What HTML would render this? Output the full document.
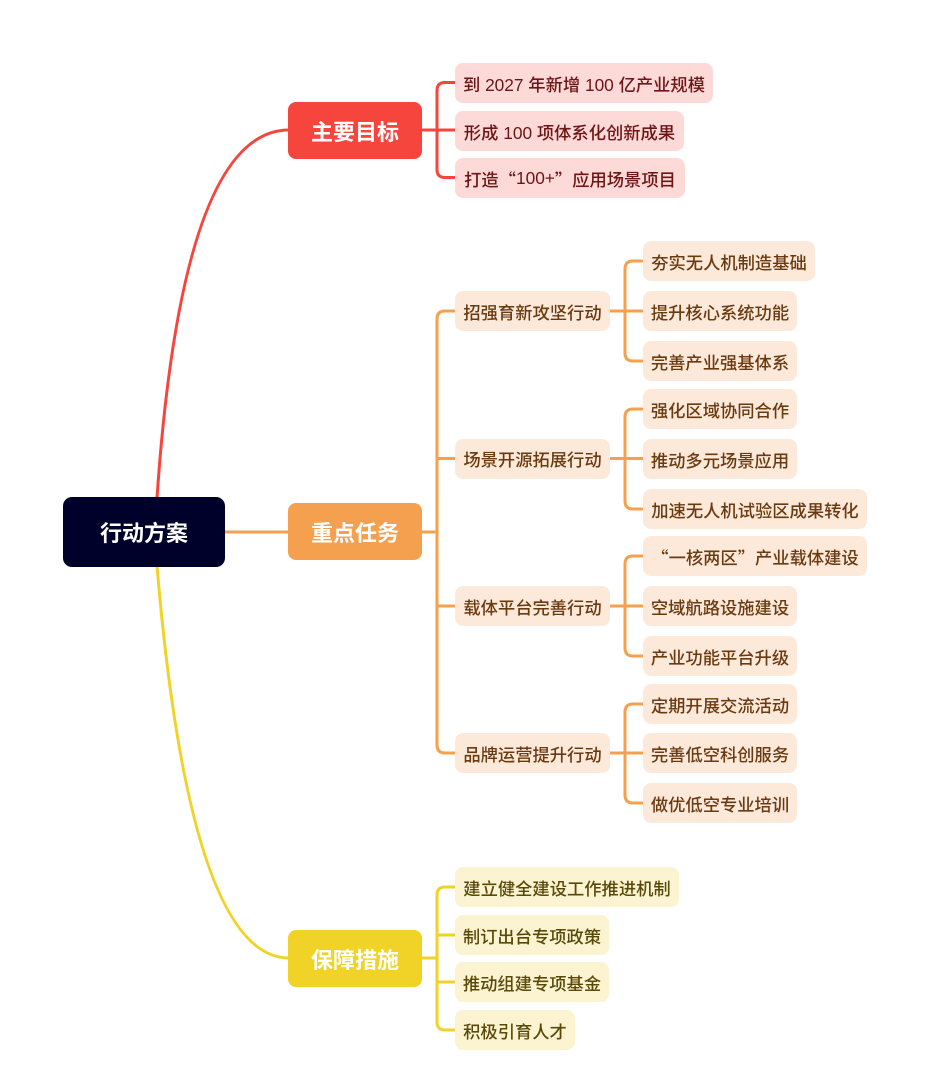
<!DOCTYPE html>
<html>
<head>
<meta charset="utf-8">
<style>
  html, body { margin:0; padding:0; background:#ffffff; }
  body { width:930px; height:1072px; position:relative; overflow:hidden;
         font-family:"Liberation Sans","Noto Sans CJK SC",sans-serif; }
  svg { position:absolute; left:0; top:0; }
  .n { position:absolute; display:flex; align-items:center; justify-content:center;
       white-space:nowrap; box-sizing:border-box; }
  .root { left:63px; top:497px; width:162px; height:70px; border-radius:9px;
          background:#00012a; color:#fff; font-size:22px; font-weight:bold; }
  .l1 { left:288px; width:134px; height:57px; border-radius:8px; color:#fff;
        font-size:22px; font-weight:bold; }
  .leaf { height:40px; border-radius:8px; font-size:17.3px; font-weight:500; }
  .r { background:#fdd9d7; color:#6e1515; }
  .o { background:#fde9da; color:#6a3a10; }
  .y { background:#fcf4d1; color:#5a4a0a; }
  .q { font-family:"Noto Sans CJK SC",sans-serif; }
</style>
</head>
<body>
<svg width="930" height="1072" viewBox="0 0 930 1072" fill="none" stroke-width="3" stroke-linecap="round">
  <!-- root to level1 -->
  <path d="M157,498 Q182,130 289,130" stroke="#f6453d"/>
  <path d="M225,532 H289" stroke="#f5a04e"/>
  <path d="M157,566 Q190,958 289,958" stroke="#f1d226"/>

  <!-- red branch -->
  <g stroke="#f6453d">
    <path d="M422,130 H455"/>
    <path d="M455,82.5 H445 Q437,82.5 437,90.5 V169.5 Q437,177.5 445,177.5 H455"/>
  </g>

  <!-- orange branch -->
  <g stroke="#f5a04e">
    <path d="M422,532 H437"/>
    <path d="M455,311 H445 Q437,311 437,319 V745 Q437,753 445,753 H455"/>
    <path d="M437,458.5 H455"/>
    <path d="M437,606 H455"/>

    <path d="M610,311 H643"/>
    <path d="M643,261 H633 Q625,261 625,269 V353 Q625,361 633,361 H643"/>

    <path d="M610,458.5 H643"/>
    <path d="M643,409 H633 Q625,409 625,417 V501 Q625,509 633,509 H643"/>

    <path d="M610,606 H643"/>
    <path d="M643,556 H633 Q625,556 625,564 V648 Q625,656 633,656 H643"/>

    <path d="M610,753 H643"/>
    <path d="M643,704 H633 Q625,704 625,712 V795 Q625,803 633,803 H643"/>
  </g>

  <!-- yellow branch -->
  <g stroke="#f1d226">
    <path d="M422,958 H437"/>
    <path d="M455,887 H445 Q437,887 437,895 V1022 Q437,1030 445,1030 H455"/>
    <path d="M437,935 H455"/>
    <path d="M437,982 H455"/>
  </g>
</svg>

<div class="n root">行动方案</div>

<div class="n l1" style="top:102px;background:#f6453d;">主要目标</div>
<div class="n l1" style="top:503px;background:#f5a04e;">重点任务</div>
<div class="n l1" style="top:930px;background:#f1d226;">保障措施</div>

<!-- red leaves -->
<div class="n leaf r" style="left:455px;top:63px;width:258px;">到 2027 年新增 100 亿产业规模</div>
<div class="n leaf r" style="left:455px;top:111px;width:229px;">形成 100 项体系化创新成果</div>
<div class="n leaf r" style="left:455px;top:158px;width:230px;">打造<span class="q">“</span>100+<span class="q">”</span>应用场景项目</div>

<!-- orange level 2 -->
<div class="n leaf o" style="left:455px;top:291px;width:155px;">招强育新攻坚行动</div>
<div class="n leaf o" style="left:455px;top:438.5px;width:155px;">场景开源拓展行动</div>
<div class="n leaf o" style="left:455px;top:586px;width:155px;">载体平台完善行动</div>
<div class="n leaf o" style="left:455px;top:733px;width:155px;">品牌运营提升行动</div>

<!-- orange leaves -->
<div class="n leaf o" style="left:643px;top:241px;width:172px;">夯实无人机制造基础</div>
<div class="n leaf o" style="left:643px;top:291px;width:154px;">提升核心系统功能</div>
<div class="n leaf o" style="left:643px;top:341px;width:154px;">完善产业强基体系</div>

<div class="n leaf o" style="left:643px;top:389px;width:154px;">强化区域协同合作</div>
<div class="n leaf o" style="left:643px;top:439px;width:154px;">推动多元场景应用</div>
<div class="n leaf o" style="left:643px;top:489px;width:224px;">加速无人机试验区成果转化</div>

<div class="n leaf o" style="left:643px;top:536px;width:224px;"><span class="q">“</span>一核两区<span class="q">”</span>产业载体建设</div>
<div class="n leaf o" style="left:643px;top:586px;width:154px;">空域航路设施建设</div>
<div class="n leaf o" style="left:643px;top:636px;width:154px;">产业功能平台升级</div>

<div class="n leaf o" style="left:643px;top:684px;width:154px;">定期开展交流活动</div>
<div class="n leaf o" style="left:643px;top:733px;width:154px;">完善低空科创服务</div>
<div class="n leaf o" style="left:643px;top:783px;width:154px;">做优低空专业培训</div>

<!-- yellow leaves -->
<div class="n leaf y" style="left:455px;top:867px;width:224px;">建立健全建设工作推进机制</div>
<div class="n leaf y" style="left:455px;top:915px;width:154px;">制订出台专项政策</div>
<div class="n leaf y" style="left:455px;top:962px;width:154px;">推动组建专项基金</div>
<div class="n leaf y" style="left:455px;top:1010px;width:120px;">积极引育人才</div>
</body>
</html>
